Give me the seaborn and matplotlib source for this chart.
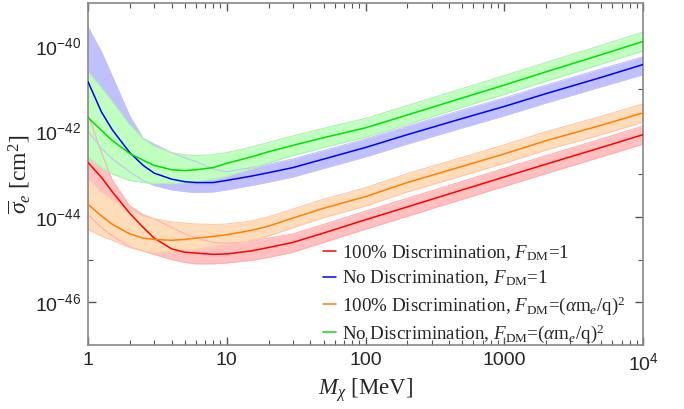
import numpy as np
import matplotlib
matplotlib.use("Agg")
import matplotlib.pyplot as plt
import matplotlib.ticker as mticker
from matplotlib.lines import Line2D
import seaborn as sns

# ── Data (log10 of cross section) ─────────────────────────────────
mass = [1, 1.25, 1.5, 2, 2.5, 3, 4, 5, 6, 8, 10, 15, 20, 30, 50,
        100, 200, 500, 1000, 2000, 5000, 10000]

red_mid = [-42.73, -43.08, -43.42, -43.92, -44.25, -44.5, -44.75, -44.83, -44.85, -44.88, -44.87,
           -44.8, -44.72, -44.6, -44.38, -44.07, -43.77, -43.37, -43.07, -42.77, -42.38, -42.08]
red_hi = [-41.6, -42.5, -43.15, -43.75, -43.95, -44.05, -44.25, -44.4, -44.5, -44.6, -44.62,
          -44.58, -44.5, -44.4, -44.18, -43.87, -43.57, -43.17, -42.87, -42.57, -42.18, -41.88]
red_lo = [-43.95, -44.25, -44.45, -44.7, -44.8, -44.88, -45.0, -45.07, -45.1, -45.1, -45.08,
          -45.02, -44.95, -44.83, -44.6, -44.29, -43.99, -43.59, -43.29, -42.99, -42.6, -42.3]

orange_mid = [-43.71, -43.98, -44.18, -44.4, -44.5, -44.53, -44.55, -44.53, -44.5, -44.46, -44.42,
              -44.32, -44.22, -44.03, -43.8, -43.53, -43.2, -42.82, -42.53, -42.22, -41.86, -41.57]
orange_hi = [-43.1, -43.4, -43.6, -43.85, -43.98, -44.05, -44.12, -44.15, -44.17, -44.18, -44.17,
             -44.1, -44.0, -43.82, -43.59, -43.32, -42.99, -42.61, -42.32, -42.01, -41.65, -41.36]
orange_lo = [-44.3, -44.45, -44.55, -44.72, -44.8, -44.83, -44.82, -44.8, -44.76, -44.7, -44.66,
             -44.56, -44.45, -44.26, -44.02, -43.75, -43.42, -43.04, -42.75, -42.44, -42.08, -41.79]

blue_mid = [-40.84, -41.55, -41.97, -42.5, -42.8, -42.98, -43.12, -43.18, -43.2, -43.2, -43.15,
            -43.05, -42.97, -42.85, -42.65, -42.38, -42.08, -41.7, -41.42, -41.12, -40.74, -40.44]
blue_hi = [-39.56, -40.14, -40.72, -41.64, -42.17, -42.3, -42.5, -42.62, -42.71, -42.88, -42.95,
           -42.85, -42.77, -42.65, -42.45, -42.18, -41.88, -41.5, -41.22, -40.92, -40.54, -40.26]
blue_lo = [-42.0, -42.4, -42.65, -42.95, -43.15, -43.27, -43.37, -43.41, -43.43, -43.42, -43.37,
           -43.27, -43.19, -43.07, -42.87, -42.6, -42.3, -41.92, -41.64, -41.34, -40.96, -40.68]

green_mid = [-41.68, -41.98, -42.22, -42.52, -42.68, -42.8, -42.9, -42.92, -42.9, -42.85, -42.75,
             -42.6, -42.48, -42.33, -42.15, -41.92, -41.62, -41.22, -40.92, -40.61, -40.21, -39.9]
green_hi = [-40.6, -40.98, -41.31, -41.85, -42.17, -42.35, -42.5, -42.55, -42.57, -42.55, -42.5,
            -42.37, -42.26, -42.11, -41.93, -41.7, -41.4, -41.0, -40.7, -40.39, -39.99, -39.68]
green_lo = [-42.6, -42.85, -43.0, -43.15, -43.2, -43.22, -43.22, -43.2, -43.18, -43.12, -43.05,
            -42.88, -42.74, -42.57, -42.38, -42.14, -41.84, -41.44, -41.14, -40.83, -40.43, -40.12]

# legend rows, top to bottom
labels = [
    r"100% Discrimination, $F_{\mathrm{DM}}$=1",
    r"No Discrimination, $F_{\mathrm{DM}}$=1",
    r"100% Discrimination, $F_{\mathrm{DM}}$=($\alpha$m$_{e}$/q)$^2$",
    r"No Discrimination, $F_{\mathrm{DM}}$=($\alpha$m$_{e}$/q)$^2$",
]

# series in drawing order: (mid, hi, lo, line colour, band colour, edge colour)
series = [
    (red_mid, red_hi, red_lo, "#FF0000", "#FFC0C0", "#FFB0B0"),
    (orange_mid, orange_hi, orange_lo, "#FF8000", "#FFDDBB", "#FFC8A8"),
    (blue_mid, blue_hi, blue_lo, "#0000FF", "#C0C0FF", "#C4C4F4"),
    (green_mid, green_hi, green_lo, "#00E000", "#C0FFC0", "#B0F0B0"),
]
legend_order = [0, 2, 1, 3]   # red, blue, orange, green

# ── Style ──────────────────────────────────────────────────────────
sns.set_style("ticks")
plt.rcParams.update({
    "font.family": ["Liberation Serif", "DejaVu Serif"],
    "mathtext.fontset": "custom",
    "mathtext.rm": "Liberation Serif",
    "mathtext.it": "Liberation Serif:italic",
    "mathtext.bf": "Liberation Serif:bold",
    "mathtext.sf": "Liberation Sans",
})

fig = plt.figure(figsize=(6.84, 4.09), dpi=100)
ax = fig.add_axes([88 / 684, 1 - 345 / 409, (643 - 88) / 684, (345 - 3) / 409])

m = np.array(mass)
# bands first (red, orange, blue, green -> later ones cover earlier ones)
for mid, hi, lo, lc, bc, ec in series:
    ax.fill_between(m, 10.0 ** np.array(lo), 10.0 ** np.array(hi), color=bc, lw=0, zorder=1)
# band edges as thin light lines
for mid, hi, lo, lc, bc, ec in series:
    ax.plot(m, 10.0 ** np.array(hi), color=ec, lw=0.8, zorder=2)
    ax.plot(m, 10.0 ** np.array(lo), color=ec, lw=0.8, zorder=2)
# central curves
for mid, hi, lo, lc, bc, ec in series:
    sns.lineplot(x=m, y=10.0 ** np.array(mid), color=lc, lw=1.1, ax=ax, zorder=3)

ax.set_xscale("log")
ax.set_yscale("log")
ax.set_xlim(1, 1e4)
ax.set_ylim(1e-47, 1e-39)

ax.xaxis.set_major_locator(mticker.FixedLocator([1, 10, 100, 1000, 1e4]))
ax.xaxis.set_major_formatter(mticker.FixedFormatter(["1", "10", "100", "1000", r"$\mathsf{10^4}$"]))
ax.xaxis.set_minor_locator(mticker.LogLocator(base=10, subs=np.arange(2, 10)))
ax.xaxis.set_minor_formatter(mticker.NullFormatter())

ax.yaxis.set_major_locator(mticker.FixedLocator([1e-46, 1e-44, 1e-42, 1e-40]))
ax.yaxis.set_major_formatter(mticker.FixedFormatter(
    [r"$\mathsf{10^{-46}}$", r"$\mathsf{10^{-44}}$", r"$\mathsf{10^{-42}}$", r"$\mathsf{10^{-40}}$"]))
ax.yaxis.set_minor_locator(mticker.FixedLocator([1e-45, 1e-43, 1e-41]))
ax.yaxis.set_minor_formatter(mticker.NullFormatter())

ax.tick_params(which="both", direction="in", top=True, right=True, color="#555555",
               labelsize=14, labelfontfamily="Liberation Sans")
ax.tick_params(which="major", length=6, width=1.0, pad=5)
ax.tick_params(which="minor", length=3.5, width=0.8)
for sp in ax.spines.values():
    sp.set_color("#888888")
    sp.set_linewidth(1.2)

ax.set_xlabel(r"$M_{\chi}$ [MeV]", fontsize=16.5, labelpad=2)
ax.set_ylabel(r"$\overline{\sigma}_e$ [cm$^2$]", fontsize=17, labelpad=2)

handles = [Line2D([0], [0], color=series[i][3], lw=1.1) for i in legend_order]
ax.legend(handles, labels, loc="upper left",
          bbox_to_anchor=(323 / 684, 1 - 243 / 409), bbox_transform=fig.transFigure,
          frameon=False, fontsize=13.7, handlelength=0.7, handletextpad=0.3,
          labelspacing=0.3, borderpad=0, borderaxespad=0)

fig.savefig("out.png", dpi=100)
